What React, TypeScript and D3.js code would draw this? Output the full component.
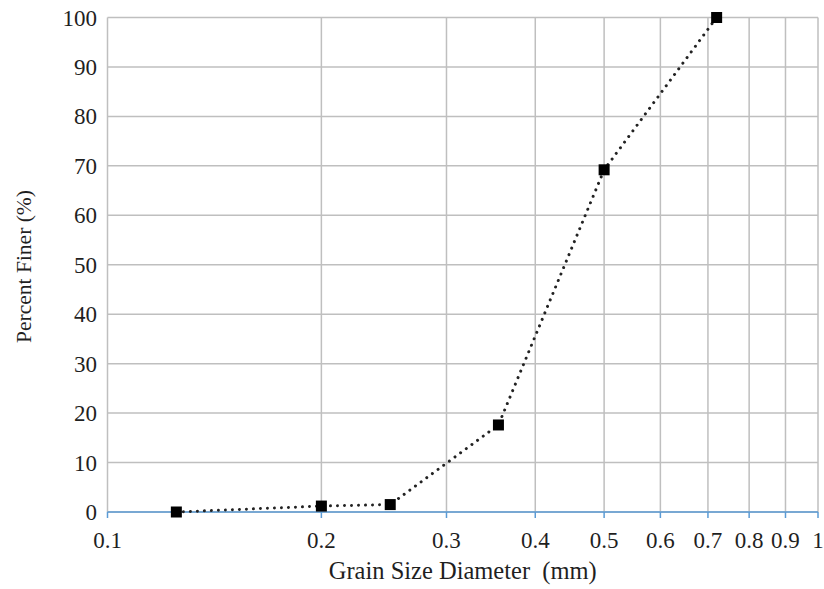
import React from "react";
import * as d3 from "d3";

// Sieve analysis: grain size (mm) vs cumulative percent finer
const grainSize = [0.125, 0.2, 0.25, 0.355, 0.5, 0.72];
const percentFiner = [0, 1.2, 1.5, 17.6, 69.2, 100];

const xTicks = [0.1, 0.2, 0.3, 0.4, 0.5, 0.6, 0.7, 0.8, 0.9, 1];
const xTickLabels = ["0.1", "0.2", "0.3", "0.4", "0.5", "0.6", "0.7", "0.8", "0.9", "1"];
const yTicks = [0, 10, 20, 30, 40, 50, 60, 70, 80, 90, 100];

const xTitle = "Grain Size Diameter  (mm)";
const yTitle = "Percent Finer (%)";

const W = 824;
const H = 589;
const margin = { left: 107.5, right: 6, top: 17.5, bottom: 77 };

export default function App() {
  const x = d3.scaleLog().domain([0.1, 1]).range([margin.left, W - margin.right]);
  const y = d3.scaleLinear().domain([0, 100]).range([H - margin.bottom, margin.top]);

  const points = grainSize.map((g, i) => [g, percentFiner[i]] as [number, number]);
  const line = d3
    .line<[number, number]>()
    .x((d) => x(d[0]))
    .y((d) => y(d[1]));

  const textStyle: React.CSSProperties = {
    fontFamily: '"Liberation Serif", "DejaVu Serif", serif',
    whiteSpace: "pre",
  };
  const textColor = "#1f1f1f";
  const gridColor = "#bfbfbf";
  const [x0, x1] = x.range();
  const [y0, y1] = y.range();
  const ms = 11;

  return (
    <svg
      width={W}
      height={H}
      style={{ position: "absolute", left: 0, top: 0, background: "#fff" }}
    >
      {/* horizontal gridlines */}
      {yTicks.map((t) => (
        <line key={"gy" + t} x1={x0} x2={x1} y1={y(t)} y2={y(t)} stroke={gridColor} strokeWidth={1.5} />
      ))}
      {/* vertical gridlines */}
      {xTicks.map((t) => (
        <line key={"gx" + t} x1={x(t)} x2={x(t)} y1={y1} y2={y0} stroke={gridColor} strokeWidth={1.5} />
      ))}
      {/* x axis line with ticks */}
      <line x1={x0} x2={x1} y1={y0} y2={y0} stroke="#5b9bd5" strokeWidth={1.5} />
      {xTicks.map((t) => (
        <line key={"tx" + t} x1={x(t)} x2={x(t)} y1={y0} y2={y0 + 6} stroke="#5b9bd5" strokeWidth={1.5} />
      ))}
      {/* y tick labels */}
      {yTicks.map((t) => (
        <text
          key={"ly" + t}
          x={97}
          y={y(t)}
          dy="0.35em"
          textAnchor="end"
          fontSize={23}
          fill={textColor}
          style={textStyle}
        >
          {t}
        </text>
      ))}
      {/* x tick labels */}
      {xTicks.map((t, i) => (
        <text
          key={"lx" + t}
          x={x(t)}
          y={548}
          textAnchor="middle"
          fontSize={23}
          fill={textColor}
          style={textStyle}
        >
          {xTickLabels[i]}
        </text>
      ))}
      {/* axis titles */}
      <text
        x={(x0 + x1) / 2}
        y={579}
        textAnchor="middle"
        fontSize={24.5}
        fill={textColor}
        style={textStyle}
      >
        {xTitle}
      </text>
      <text
        transform={`translate(31, 266.5) rotate(-90)`}
        textAnchor="middle"
        fontSize={21.5}
        fill={textColor}
        style={textStyle}
      >
        {yTitle}
      </text>
      {/* data line */}
      <path
        d={line(points) ?? ""}
        fill="none"
        stroke="#222"
        strokeWidth={3}
        strokeLinecap="round"
        strokeDasharray="0.01 7"
      />
      {points.map((p, i) => (
        <rect
          key={"m" + i}
          x={x(p[0]) - ms / 2}
          y={y(p[1]) - ms / 2}
          width={ms}
          height={ms}
          fill="#000"
        />
      ))}
    </svg>
  );
}
